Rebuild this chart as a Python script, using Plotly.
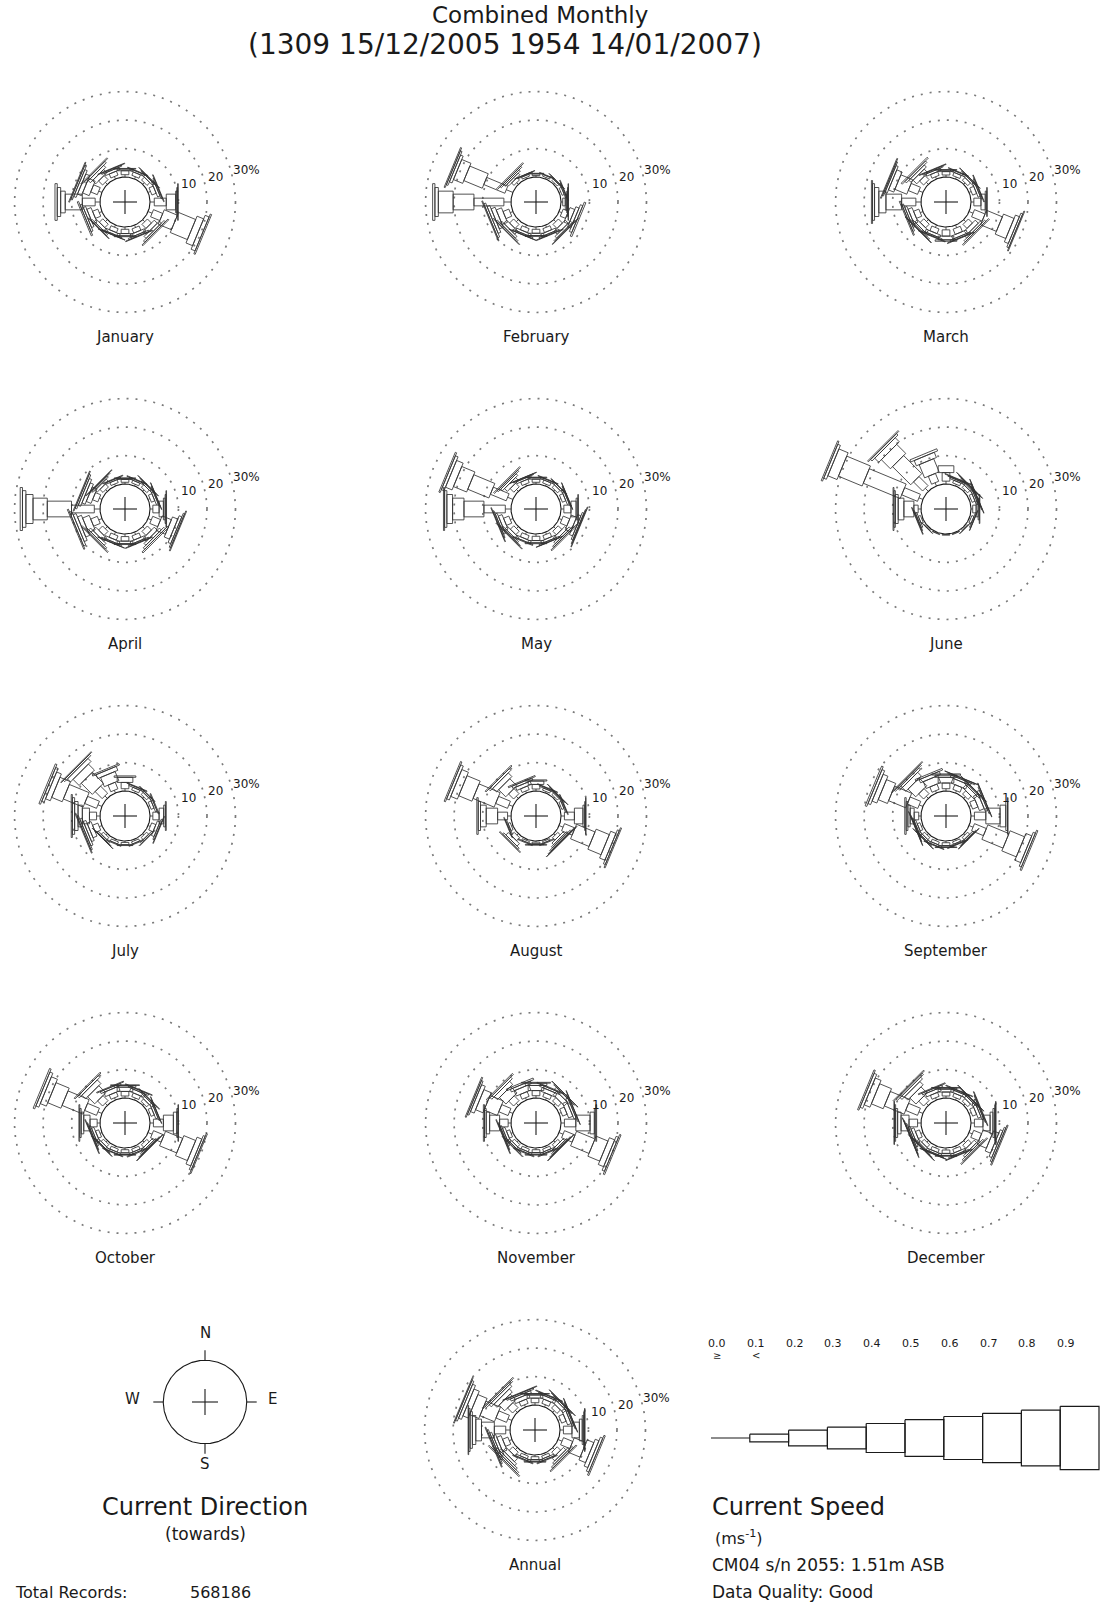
import math
import plotly.graph_objects as go

# ---------------- data ----------------
DIRECTIONS = ["N", "NNE", "NE", "ENE", "E", "ESE", "SE", "SSE",
              "S", "SSW", "SW", "WSW", "W", "WNW", "NW", "NNW"]
SPEED_LABELS = ["0.0", "0.1", "0.2", "0.3", "0.4", "0.5", "0.6", "0.7", "0.8", "0.9"]
ROSE_TITLES = ["January", "February", "March", "April", "May", "June", "July",
               "August", "September", "October", "November", "December", "Annual"]
RING_LABELS = ["10", "20", "30%"]
RING_VALUES = [10, 20, 30]

# percent of records per direction (rows N..NNW), split by speed class 0.0-0.1, 0.1-0.2, ...
JAN = [[0.8, 1.4, 0.6, 0.2], [0.8, 1.3, 0.6, 0.2], [0.8, 1.4, 0.7, 0.3, 0.1],
       [0.9, 1.6, 0.9, 0.4, 0.2], [1.5, 4.2, 3.3, 0.4, 0.3, 0.2],
       [1.5, 3.5, 5.0, 6.5, 2.5, 1.5, 0.5], [1.0, 2.0, 1.5, 1.0, 0.6, 0.4],
       [0.9, 1.6, 1.0, 0.5, 0.2], [0.8, 1.5, 0.8, 0.3], [0.8, 1.5, 0.9, 0.3, 0.1],
       [0.9, 1.7, 1.1, 0.5, 0.2], [1.0, 2.0, 1.6, 0.9, 0.7, 0.5],
       [1.7, 4.5, 6.0, 1.6, 1.2, 0.8], [1.2, 2.5, 2.5, 1.5, 0.9, 0.6, 0.3],
       [1.0, 2.0, 1.6, 1.0, 0.7, 0.4], [0.9, 1.5, 0.9, 0.4, 0.2]]
FEB = [[0.5, 0.6, 0.2], [0.5, 0.6, 0.2], [0.5, 0.7, 0.3, 0.1], [0.6, 0.8, 0.4, 0.2],
       [0.6, 0.9, 0.5, 0.3, 0.2, 0.1], [1.0, 2.0, 1.8, 1.2, 0.9, 0.6],
       [1.0, 2.0, 1.5, 0.8, 0.4, 0.2], [0.8, 1.5, 0.9, 0.4, 0.2], [0.8, 1.4, 0.8, 0.3],
       [0.8, 1.5, 0.9, 0.4, 0.1], [1.0, 2.0, 1.5, 0.8, 0.5, 0.2],
       [1.0, 2.2, 2.0, 1.5, 1.0, 0.7, 0.3], [2.5, 10.5, 7.3, 5.2, 1.2, 0.8],
       [2.5, 8.0, 7.0, 3.5, 1.0, 0.6, 0.4], [0.8, 1.2, 0.8, 0.6, 0.5, 0.4],
       [0.5, 0.7, 0.3, 0.1]]
MAR = [[0.7, 1.2, 0.5, 0.2], [0.7, 1.2, 0.6, 0.2], [0.7, 1.3, 0.7, 0.3, 0.1],
       [0.8, 1.5, 0.8, 0.4, 0.2], [1.0, 2.5, 1.5, 0.5, 0.2],
       [1.5, 4.0, 6.0, 4.0, 1.5, 0.7, 0.3], [1.0, 2.0, 1.5, 0.8, 0.6, 0.4],
       [1.0, 2.0, 1.2, 0.5, 0.2], [1.0, 2.2, 1.3, 0.5], [0.9, 1.8, 1.0, 0.4, 0.2],
       [0.9, 1.8, 1.2, 0.6, 0.4, 0.2], [1.0, 2.0, 1.5, 0.8, 0.6, 0.4],
       [1.8, 5.0, 5.5, 2.5, 1.5, 0.7, 0.4], [1.5, 3.5, 4.5, 2.0, 0.8, 0.4, 0.3],
       [1.0, 2.0, 1.8, 1.0, 0.7, 0.5], [0.8, 1.4, 0.8, 0.4, 0.2]]
APR = [[0.6, 1.0, 0.4, 0.1], [0.6, 1.0, 0.5, 0.2], [0.7, 1.2, 0.6, 0.2, 0.1],
       [0.7, 1.3, 0.7, 0.3, 0.1], [1.0, 2.2, 1.5, 0.6, 0.3, 0.2],
       [1.2, 3.0, 3.5, 2.0, 1.0, 0.5, 0.3], [1.0, 2.0, 1.5, 0.9, 0.7, 0.5],
       [0.9, 1.6, 1.0, 0.4, 0.2], [0.9, 1.6, 0.9, 0.3], [0.9, 1.6, 1.0, 0.4, 0.1],
       [1.0, 2.0, 1.5, 0.9, 0.6, 0.4], [1.2, 2.5, 2.5, 1.5, 1.1, 0.8, 0.4],
       [2.0, 8.0, 8.5, 5.0, 2.5, 1.2, 0.8], [1.0, 2.0, 1.8, 1.2, 0.9, 0.6, 0.3],
       [0.8, 1.5, 1.0, 0.5, 0.3, 0.2], [0.7, 1.1, 0.5, 0.2]]
MAY = [[0.6, 1.1, 0.5, 0.2], [0.6, 1.1, 0.5, 0.2], [0.6, 1.2, 0.6, 0.2],
       [0.7, 1.3, 0.7, 0.3, 0.1], [1.0, 2.5, 1.8, 0.6, 0.2],
       [1.0, 2.5, 2.0, 1.2, 0.6, 0.3, 0.2], [0.9, 1.8, 1.2, 0.7, 0.5, 0.4],
       [0.8, 1.5, 0.9, 0.4, 0.1], [0.8, 1.5, 0.8, 0.3], [0.8, 1.5, 0.9, 0.3],
       [0.9, 1.7, 1.1, 0.5, 0.3, 0.2], [1.0, 2.0, 1.4, 0.7, 0.4, 0.2],
       [2.0, 7.5, 7.0, 4.0, 2.0, 0.8, 0.4], [2.0, 6.0, 8.0, 5.0, 2.5, 1.0, 0.5],
       [0.9, 1.8, 1.4, 0.8, 0.5, 0.4], [0.7, 1.3, 0.7, 0.3, 0.1]]
JUN = [[1.0, 3.0, 2.4], [0.6, 1.0, 0.5, 0.3, 0.2], [0.6, 1.1, 0.6, 0.4, 0.2, 0.1],
       [0.6, 1.1, 0.6, 0.4, 0.2, 0.1], [0.6, 1.2, 0.7, 0.4, 0.2], [0.5, 0.8, 0.4, 0.1],
       [0.3, 0.4, 0.1], [0.2, 0.2], [0.2, 0.2], [0.2, 0.2], [0.3, 0.3, 0.1],
       [0.4, 0.8, 0.5, 0.3, 0.2], [1.0, 1.5, 3.5, 2.0, 1.0, 0.5, 0.3],
       [1.5, 6.0, 14.0, 9.0, 3.5, 1.0, 0.5], [1.5, 4.5, 9.0, 4.5, 2.0, 0.7, 0.4],
       [1.2, 3.0, 5.0, 2.0, 0.8]]
JUL = [[0.8, 2.2, 1.8, 0.5], [0.6, 1.0, 0.5, 0.2], [0.6, 1.0, 0.5, 0.2],
       [0.6, 1.1, 0.6, 0.3], [1.0, 2.2, 1.6, 0.6, 0.3], [0.8, 1.6, 1.0, 0.5, 0.2],
       [0.6, 1.0, 0.5, 0.2], [0.5, 0.8, 0.3], [0.5, 0.8, 0.3], [0.5, 0.8, 0.3],
       [0.6, 1.0, 0.5, 0.2, 0.1], [1.0, 2.0, 1.5, 1.0, 0.8, 0.5, 0.3],
       [1.2, 2.5, 2.5, 1.5, 1.2, 0.8, 0.4], [1.5, 4.5, 7.5, 4.0, 1.8, 0.9, 0.6],
       [1.2, 3.5, 5.5, 3.0, 1.5, 0.6, 0.3], [1.0, 2.5, 3.5, 1.5, 0.5]]
AUG = [[0.7, 1.6, 1.2, 0.4], [0.5, 0.8, 0.4, 0.2], [0.5, 0.8, 0.4, 0.2, 0.1],
       [0.5, 0.8, 0.4, 0.2], [1.2, 3.5, 3.0, 0.6, 0.3, 0.2],
       [1.5, 4.0, 7.0, 5.0, 2.0, 0.7, 0.4], [0.7, 1.2, 0.8, 0.5, 0.4, 0.3, 0.1],
       [0.4, 0.6, 0.3], [0.4, 0.6, 0.3, 0.1], [0.4, 0.6, 0.3], [0.7, 1.5, 1.2, 0.6, 0.3],
       [0.5, 0.8, 0.4, 0.2], [1.2, 3.5, 4.0, 2.0, 0.8, 0.5],
       [1.5, 4.5, 8.0, 5.0, 2.5, 1.0, 0.5], [1.0, 2.5, 3.5, 1.8, 0.8, 0.4],
       [0.7, 1.4, 1.2, 0.8, 0.4]]
SEP = [[0.8, 2.0, 2.0, 0.8, 0.4], [0.8, 1.8, 1.8, 0.8, 0.4, 0.1],
       [0.8, 1.6, 1.5, 0.6, 0.3, 0.1], [0.8, 2.0, 1.8, 0.9, 0.4, 0.1],
       [1.2, 4.0, 5.0, 2.0, 0.6, 0.2], [1.5, 4.5, 8.0, 5.5, 2.2, 0.8, 0.5],
       [0.6, 1.0, 0.5, 0.3, 0.2], [0.5, 0.9, 0.4, 0.2], [0.6, 1.0, 0.5, 0.2],
       [0.6, 1.0, 0.6, 0.2], [0.6, 1.0, 0.6, 0.3, 0.1], [0.6, 1.0, 0.6, 0.3, 0.2, 0.1],
       [0.8, 1.6, 1.4, 0.8, 0.6, 0.5], [1.4, 4.0, 6.5, 3.5, 1.8, 1.0, 0.6],
       [1.0, 2.5, 3.8, 1.8, 0.8, 0.5, 0.3], [0.8, 2.0, 2.6, 1.2, 0.6]]
OCT = [[0.7, 1.6, 1.5, 0.6, 0.2], [0.7, 1.4, 1.2, 0.5, 0.2], [0.6, 1.2, 0.9, 0.4, 0.2],
       [0.6, 1.2, 0.8, 0.4, 0.1], [1.2, 3.5, 3.5, 1.2, 0.4, 0.2],
       [1.5, 4.0, 6.5, 4.5, 1.8, 0.7, 0.4], [0.7, 1.2, 0.8, 0.4, 0.3, 0.2],
       [0.6, 1.1, 0.6, 0.3], [0.6, 1.1, 0.6, 0.2], [0.6, 1.1, 0.6, 0.2],
       [0.6, 1.1, 0.7, 0.3, 0.1], [0.7, 1.2, 0.9, 0.5, 0.3, 0.2],
       [1.0, 2.5, 2.2, 0.9, 0.5, 0.3], [1.5, 4.5, 8.0, 5.0, 2.3, 1.1, 0.6],
       [1.0, 2.5, 3.5, 1.8, 0.8, 0.4], [0.8, 1.6, 1.6, 0.7, 0.3]]
NOV = [[0.8, 1.8, 1.8, 0.8, 0.3], [0.7, 1.5, 1.4, 0.7, 0.3],
       [0.8, 1.7, 1.7, 0.9, 0.4, 0.1], [0.8, 1.7, 1.6, 0.8, 0.4, 0.1],
       [1.2, 4.0, 5.0, 1.5, 0.5, 0.3], [1.5, 4.0, 7.0, 4.5, 2.0, 0.9, 0.5],
       [0.7, 1.2, 0.8, 0.4, 0.3, 0.2], [0.6, 1.0, 0.6, 0.3], [0.6, 1.0, 0.6, 0.3],
       [0.6, 1.0, 0.6, 0.3], [0.6, 1.1, 0.7, 0.4, 0.2], [0.7, 1.2, 0.9, 0.5, 0.3, 0.2],
       [1.0, 3.0, 3.5, 1.2, 0.6, 0.4], [1.3, 3.5, 5.0, 2.8, 1.4, 0.6, 0.4],
       [1.0, 2.4, 3.2, 1.5, 0.8, 0.5], [0.8, 1.8, 2.0, 1.0, 0.6]]
DEC = [[0.7, 1.4, 1.0, 0.4, 0.2], [0.7, 1.3, 0.9, 0.4, 0.2],
       [0.7, 1.3, 0.9, 0.4, 0.2, 0.1], [0.8, 1.5, 1.1, 0.6, 0.3, 0.2],
       [1.2, 3.0, 2.5, 1.0, 0.6, 0.3, 0.2], [1.2, 3.0, 3.5, 2.0, 1.0, 0.6, 0.4],
       [0.9, 1.6, 1.2, 0.7, 0.6, 0.4], [0.7, 1.3, 0.8, 0.4, 0.2],
       [0.7, 1.2, 0.7, 0.3], [0.7, 1.2, 0.7, 0.3, 0.1], [0.7, 1.3, 0.8, 0.4, 0.2, 0.1],
       [0.8, 1.5, 1.1, 0.6, 0.4, 0.2, 0.1], [1.2, 3.0, 2.8, 1.2, 0.7, 0.4, 0.2],
       [1.5, 4.5, 7.5, 4.5, 2.2, 1.0, 0.5], [1.0, 2.4, 3.0, 1.6, 0.9, 0.6, 0.4],
       [0.8, 1.5, 1.2, 0.6, 0.3]]
ANN = [[0.8, 1.6, 1.1, 0.4, 0.1], [0.8, 1.6, 1.2, 0.5, 0.2],
       [0.8, 1.7, 1.3, 0.6, 0.3, 0.1], [0.8, 1.7, 1.3, 0.6, 0.3, 0.1],
       [1.2, 3.0, 2.6, 1.0, 0.5, 0.3, 0.2], [1.5, 3.5, 4.5, 2.5, 1.4, 0.9, 0.5],
       [0.9, 1.7, 1.2, 0.7, 0.6, 0.4], [0.6, 1.0, 0.6, 0.3],
       [0.6, 1.0, 0.6, 0.3], [0.6, 1.0, 0.6, 0.3],
       [0.9, 1.8, 1.5, 0.9, 0.7, 0.6, 0.4], [1.0, 2.0, 1.6, 1.0, 0.7, 0.5, 0.3],
       [1.5, 4.0, 4.5, 2.0, 1.2, 0.8, 0.5, 0.2],
       [1.5, 4.0, 5.5, 3.5, 2.0, 1.1, 0.7, 0.3],
       [1.0, 2.5, 2.8, 1.5, 1.0, 0.6, 0.4], [0.8, 1.6, 1.4, 0.8, 0.5, 0.2]]

ROSE_DATA = [JAN, FEB, MAR, APR, MAY, JUN, JUL, AUG, SEP, OCT, NOV, DEC, ANN]

TITLE_LINE1 = "Combined Monthly"
TITLE_LINE2 = "(1309 15/12/2005 1954 14/01/2007)"
TOTAL_RECORDS = "568186"
INSTRUMENT = "CM04 s/n 2055: 1.51m ASB"
DATA_QUALITY = "Data Quality: Good"

# ---------------- layout / style ----------------
W, H = 1100, 1602
COL_X = [125, 536, 946]
ROW_Y = [202, 509, 816, 1123]
ANNUAL_XY = (535, 1430)
R_INNER = 25.0          # radius of the 0% circle (px)
PX_PER_PCT = 2.85       # radial px per percent
BOX_W = [0, 7.7, 15.7, 21.7, 29.0, 36.7, 43.0, 49.3, 55.7, 63.3]  # box width per speed class
INK = "#1a1a1a"
FONT = "DejaVu Sans"

centers = []
for r in ROW_Y:
    for c in COL_X:
        centers.append((c, r))
centers.append(ANNUAL_XY)

fig = go.Figure()
annotations = []


def add_text(x, y, text, size, xanchor="center", color=INK):
    annotations.append(dict(x=x, y=y, xref="x", yref="y", text=text, showarrow=False,
                            xanchor=xanchor, yanchor="middle",
                            font=dict(family=FONT, size=size, color=color)))


def circle_pts(cx, cy, r, n=240):
    xs = [cx + r * math.cos(2 * math.pi * i / n) for i in range(n + 1)]
    ys = [cy + r * math.sin(2 * math.pi * i / n) for i in range(n + 1)]
    return xs, ys


for (cx, cy), data, title in zip(centers, ROSE_DATA, ROSE_TITLES):
    # dotted percentage rings
    rx, ry = [], []
    for v in RING_VALUES:
        xs, ys = circle_pts(cx, cy, R_INNER + PX_PER_PCT * v)
        rx += xs + [None]
        ry += ys + [None]
    fig.add_trace(go.Scatter(x=rx, y=ry, mode="lines", hoverinfo="skip",
                             line=dict(color="#7a7a7a", width=1.7, dash="2px,7px")))
    # inner circle and cross
    xs, ys = circle_pts(cx, cy, R_INNER)
    xs += [None, cx - 12, cx + 12, None, cx, cx]
    ys += [None, cy, cy, None, cy - 12, cy + 12]
    fig.add_trace(go.Scatter(x=xs, y=ys, mode="lines", hoverinfo="skip",
                             line=dict(color=INK, width=1.1)))
    # stacked speed-class boxes
    bx, by = [], []
    for d, classes in enumerate(data):
        th = math.radians(d * 360.0 / len(DIRECTIONS))
        ux, uy = math.sin(th), -math.cos(th)
        vx, vy = math.cos(th), math.sin(th)
        r0 = R_INNER
        for k, p in enumerate(classes):
            r1 = r0 + p * PX_PER_PCT
            if k == 0:
                bx += [cx + ux * r0, cx + ux * r1, None]
                by += [cy + uy * r0, cy + uy * r1, None]
            else:
                h = BOX_W[k] / 2
                for rr, hh in [(r0, -h), (r1, -h), (r1, h), (r0, h), (r0, -h)]:
                    bx.append(cx + ux * rr + vx * hh)
                    by.append(cy + uy * rr + vy * hh)
                bx.append(None)
                by.append(None)
            r0 = r1
    fig.add_trace(go.Scatter(x=bx, y=by, mode="lines", hoverinfo="skip",
                             line=dict(color="#333333", width=0.85)))
    # labels
    add_text(cx, cy + 135, title, 15)
    for lab, (ox, oy) in zip(RING_LABELS, [(63, -18), (90, -25), (121, -32)]):
        add_text(cx + ox, cy + oy, lab, 12)

# ---------------- direction legend ----------------
CX, CY, CR = 205, 1402, 41.7
xs, ys = circle_pts(CX, CY, CR)
for ang in range(4):
    th = math.radians(ang * 90)
    ux, uy = math.sin(th), -math.cos(th)
    xs += [None, CX + ux * CR, CX + ux * (CR + 10)]
    ys += [None, CY + uy * CR, CY + uy * (CR + 10)]
xs += [None, CX - 13, CX + 13, None, CX, CX]
ys += [None, CY, CY, None, CY - 13, CY + 13]
fig.add_trace(go.Scatter(x=xs, y=ys, mode="lines", hoverinfo="skip",
                         line=dict(color=INK, width=1.1)))
add_text(CX, 1333, "N", 15)
add_text(CX, 1464, "S", 15)
add_text(132, 1399, "W", 15)
add_text(272, 1399, "E", 15)
add_text(CX, 1507, "Current Direction", 24)
add_text(CX, 1534, "(towards)", 17)
add_text(13, 1592, "Total Records:", 16, xanchor="left")
add_text(188, 1592, TOTAL_RECORDS, 16, xanchor="left")

# ---------------- speed legend ----------------
LX0, LY, STEP = 711, 1438, 38.8
lx = [LX0, LX0 + STEP, None]
ly = [LY, LY, None]
for k in range(1, len(SPEED_LABELS)):
    x0 = LX0 + STEP * k
    x1 = x0 + STEP
    h = BOX_W[k] / 2
    lx += [x0, x1, x1, x0, x0, None]
    ly += [LY - h, LY - h, LY + h, LY + h, LY - h, None]
fig.add_trace(go.Scatter(x=lx, y=ly, mode="lines", hoverinfo="skip",
                         line=dict(color=INK, width=1.2)))
for k, lab in enumerate(SPEED_LABELS):
    add_text(LX0 + 6 + STEP * k, 1343, lab, 11)
add_text(LX0 + 6, 1355, "≥", 10)
add_text(LX0 + 6 + STEP, 1355, "<", 10)
add_text(710, 1507, "Current Speed", 24, xanchor="left")
add_text(713, 1537, "(ms<sup>-1</sup>)", 16, xanchor="left")
add_text(710, 1565, INSTRUMENT, 17, xanchor="left")
add_text(710, 1592, DATA_QUALITY, 17, xanchor="left")

# ---------------- title ----------------
add_text(540, 15, TITLE_LINE1, 23)
add_text(505, 44, TITLE_LINE2, 28)

fig.update_layout(
    width=W, height=H, margin=dict(l=0, r=0, t=0, b=0),
    paper_bgcolor="white", plot_bgcolor="white", showlegend=False,
    xaxis=dict(range=[0, W], visible=False, fixedrange=True),
    yaxis=dict(range=[H, 0], visible=False, fixedrange=True),
    annotations=annotations, font=dict(family=FONT, color=INK),
)

fig.write_html("out.html", config={"displayModeBar": False},
               post_script="document.body.style.margin='0';document.body.style.overflow='hidden';")
